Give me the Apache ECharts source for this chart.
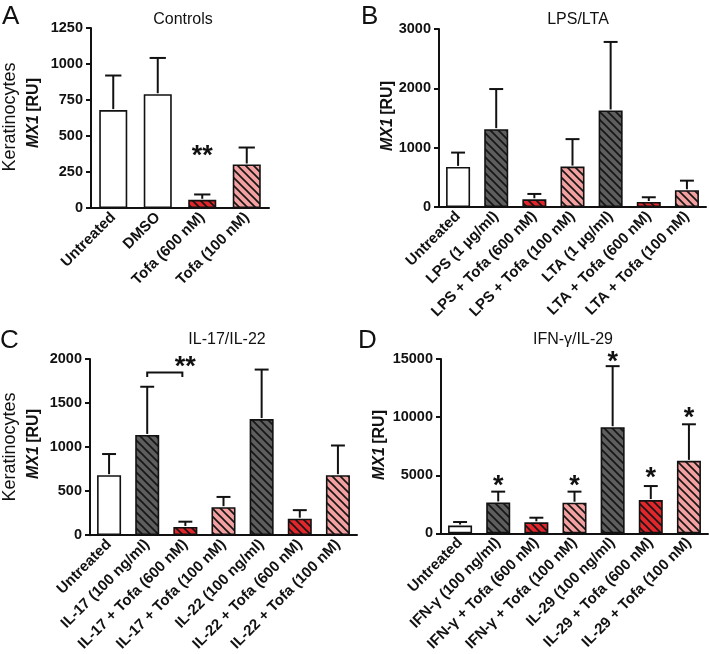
<!DOCTYPE html>
<html><head><meta charset="utf-8">
<script src="https://cdn.jsdelivr.net/npm/echarts@6/dist/echarts.min.js"></script>
<style>html,body{margin:0;padding:0;background:#fff}#c{width:709px;height:654px}</style>
</head><body><div id="c"></div>
<script>
// ---------- data ----------
const catsA = ['Untreated', 'DMSO', 'Tofa (600 nM)', 'Tofa (100 nM)'];
const meanA = [680, 790, 57, 302];
const errA  = [240, 252, 37, 118];

const catsB = ['Untreated', 'LPS (1 µg/ml)', 'LPS + Tofa (600 nM)', 'LPS + Tofa (100 nM)', 'LTA (1 µg/ml)', 'LTA + Tofa (600 nM)', 'LTA + Tofa (100 nM)'];
const meanB = [676, 1312, 130, 681, 1627, 84, 282];
const errB  = [241, 676, 90, 463, 1155, 80, 162];

const catsC = ['Untreated', 'IL-17 (100 ng/ml)', 'IL-17 + Tofa (600 nM)', 'IL-17 + Tofa (100 nM)', 'IL-22 (100 ng/ml)', 'IL-22 + Tofa (600 nM)', 'IL-22 + Tofa (100 nM)'];
const meanC = [681, 1138, 93, 318, 1318, 187, 681];
const errC  = [240, 547, 60, 116, 562, 97, 337];

const catsD = ['Untreated', 'IFN-γ (100 ng/ml)', 'IFN-γ + Tofa (600 nM)', 'IFN-γ + Tofa (100 nM)', 'IL-29 (100 ng/ml)', 'IL-29 + Tofa (600 nM)', 'IL-29 + Tofa (100 nM)'];
const meanD = [675, 2664, 953, 2639, 9132, 2867, 6239];
const errD  = [303, 928, 396, 953, 5253, 1206, 3146];

const yMax = [1250, 3000, 2000, 15000];
const yStep = [250, 1000, 500, 5000];
const panelTitles = ['Controls', 'LPS/LTA', 'IL-17/IL-22', 'IFN-γ/IL-29'];
const panelLetters = ['A', 'B', 'C', 'D'];

// significance marks: [category index, level (data units), text]
const sigA = [[2, 390, '**']];
const sigB = [];
const sigC = [[1.5, 1955, '**']];
const sigD = [[1, 4494, '*'], [3, 4494, '*'], [4, 15118, '*'], [5, 5110, '*'], [6, 10312, '*']];
// bracket in C: [from cat, to cat, level]
const bracketC = [[1, 2, 1846]];

// ---------- styling ----------
const FONT = '"Liberation Sans", Arial, Helvetica, sans-serif';
function hatch(bg) {
  const s = 8, c = document.createElement('canvas');
  c.width = s; c.height = s;
  const g = c.getContext('2d');
  g.fillStyle = bg; g.fillRect(0, 0, s, s);
  g.strokeStyle = '#161616'; g.lineWidth = 1.7;
  for (let k = -1; k <= 1; k++) {
    g.beginPath(); g.moveTo(-s, -s + k * s); g.lineTo(2 * s, 2 * s + k * s); g.stroke();
  }
  return { image: c, repeat: 'repeat' };
}
const fills = {
  white: '#ffffff',
  gray: hatch('#5e5e5e'),
  red: hatch('#e3262b'),
  pink: hatch('#f4a0a0')
};
function kindOf(name) {
  if (/Untreated|DMSO/.test(name)) return 'white';
  if (/600 nM/.test(name)) return 'red';
  if (/100 nM/.test(name)) return 'pink';
  return 'gray';
}

const panels = [
  { cats: catsA, mean: meanA, err: errA, sig: sigA, br: [] },
  { cats: catsB, mean: meanB, err: errB, sig: sigB, br: [] },
  { cats: catsC, mean: meanC, err: errC, sig: sigC, br: bracketC },
  { cats: catsD, mean: meanD, err: errD, sig: sigD, br: [] }
];
const grids = [
  { left: 91, top: 28, width: 178, height: 180 },
  { left: 439, top: 29, width: 267, height: 178 },
  { left: 90, top: 359, width: 267, height: 178 },
  { left: 441, top: 359, width: 267, height: 178 }
];

const xAxis = [], yAxis = [], series = [];
panels.forEach((p, i) => {
  xAxis.push({
    type: 'category', gridIndex: i, data: p.cats,
    axisLine: { lineStyle: { color: '#111', width: 2 } },
    axisTick: { show: false },
    axisLabel: { interval: 0, rotate: 45, margin: 7, color: '#111', fontFamily: FONT, fontWeight: 'bold', fontSize: 15 }
  });
  yAxis.push({
    type: 'value', gridIndex: i, min: 0, max: yMax[i], interval: yStep[i],
    splitLine: { show: false },
    axisLine: { show: true, lineStyle: { color: '#111', width: 2 } },
    axisTick: { show: true, length: 5, lineStyle: { color: '#111', width: 2 } },
    axisLabel: { margin: 8, color: '#111', fontFamily: FONT, fontWeight: 'bold', fontSize: 14.5, formatter: v => String(v) }
  });
  series.push({
    type: 'bar', xAxisIndex: i, yAxisIndex: i, barWidth: '63%',
    data: p.mean.map((v, j) => ({ value: v, itemStyle: { color: fills[kindOf(p.cats[j])] } })),
    itemStyle: { borderColor: '#111', borderWidth: 1.6 },
    emphasis: { disabled: true }, z: 2
  });
  series.push({
    type: 'custom', xAxisIndex: i, yAxisIndex: i, z: 3,
    data: p.mean.map((v, j) => [j, v, p.err[j]]),
    encode: { x: 0, y: 1 },
    renderItem: (params, api) => {
      const x = api.value(0), v = api.value(1), e = api.value(2);
      const a = api.coord([x, v]), b = api.coord([x, v + e]);
      const hw = api.size([1, 0])[0] * 0.63 * 0.29;
      const st = { stroke: '#111', lineWidth: 2 };
      return { type: 'group', children: [
        { type: 'line', shape: { x1: a[0], y1: a[1] - 1, x2: b[0], y2: b[1] }, style: st },
        { type: 'line', shape: { x1: b[0] - hw, y1: b[1], x2: b[0] + hw, y2: b[1] }, style: st }
      ]};
    }
  });
  if (p.sig.length) series.push({
    type: 'custom', xAxisIndex: i, yAxisIndex: i, z: 4,
    data: p.sig.map(s => [s[0], s[1]]),
    encode: { x: 0, y: 1 },
    renderItem: (params, api) => {
      const s = p.sig[params.dataIndex];
      const c = api.coord([s[0], s[1]]);
      return { type: 'text', x: c[0], y: c[1] + 5,
        style: { text: s[2], font: 'bold 27px ' + FONT, fill: '#111', textAlign: 'center', textVerticalAlign: 'middle' } };
    }
  });
  if (p.br.length) series.push({
    type: 'custom', xAxisIndex: i, yAxisIndex: i, z: 4,
    data: p.br.map(b => [b[0], b[2]]),
    encode: { x: 0, y: 1 },
    renderItem: (params, api) => {
      const b = p.br[params.dataIndex];
      const l = api.coord([b[0], b[2]]), r = api.coord([b[1], b[2]]);
      return { type: 'polyline', shape: { points: [[l[0], l[1] + 4.5], [l[0], l[1]], [r[0] - 3, r[1]], [r[0] - 3, r[1] + 4.5]] },
        style: { stroke: '#111', lineWidth: 2, fill: null } };
    }
  });
});

// ---------- text ----------
const graphic = [];
const letterPos = [[2, 4], [361, 4], [0, 328], [358, 328]];
letterPos.forEach((q, i) => graphic.push({ type: 'text', left: q[0], top: q[1],
  style: { text: panelLetters[i], font: '26px ' + FONT, fill: '#111' } }));
const titlePos = [[183, 20], [578, 20], [227, 340], [573, 340]];
titlePos.forEach((q, i) => graphic.push({ type: 'text', x: q[0], y: q[1],
  style: { text: panelTitles[i], font: '16px ' + FONT, fill: '#111', textAlign: 'center', textVerticalAlign: 'middle' } }));
const yNames = [[34, 113], [388, 116], [34, 444], [380, 445]];
yNames.forEach(q => graphic.push({ type: 'text', x: q[0], y: q[1], rotation: Math.PI / 2,
  style: { text: '{i|MX1} {b|[RU]}', textAlign: 'center', textVerticalAlign: 'middle',
    rich: { i: { font: 'italic bold 16px ' + FONT, fill: '#111' }, b: { font: 'bold 16px ' + FONT, fill: '#111' } } } }));
[[10, 117], [10, 447]].forEach(q => graphic.push({ type: 'text', x: q[0], y: q[1], rotation: Math.PI / 2,
  style: { text: 'Keratinocytes', font: '18px ' + FONT, fill: '#111', textAlign: 'center', textVerticalAlign: 'middle' } }));

const chart = echarts.init(document.getElementById('c'), null, { renderer: 'canvas' });
chart.setOption({
  animation: false,
  backgroundColor: '#fff',
  grid: grids,
  xAxis, yAxis, series, graphic
});
</script></body></html>
